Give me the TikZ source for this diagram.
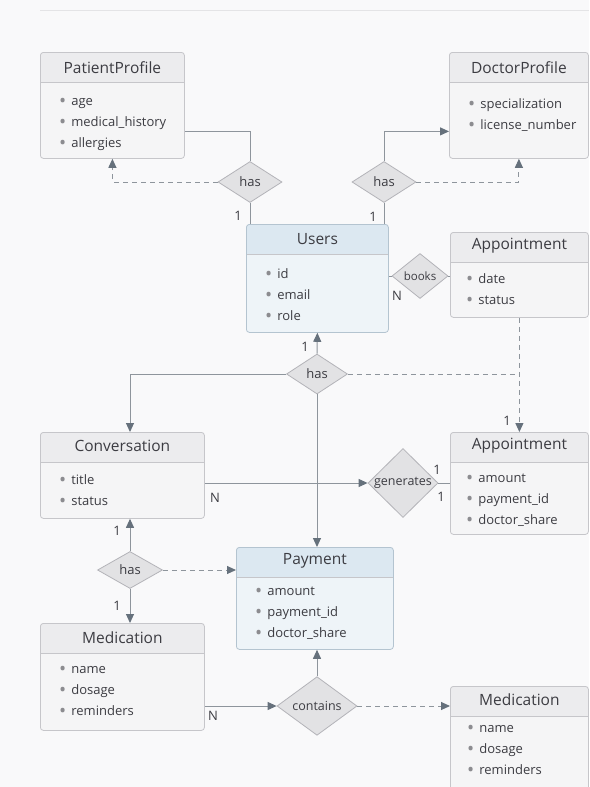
\documentclass[tikz,border=0pt]{standalone}
\usepackage{fontspec}
\setmainfont{Open Sans}
\usetikzlibrary{arrows.meta,positioning,shapes.geometric}

\definecolor{pagebg}{HTML}{F9F9FA}
\definecolor{topline}{HTML}{E4E4E6}
\definecolor{headgrey}{HTML}{ECECEE}
\definecolor{bodygrey}{HTML}{F5F5F6}
\definecolor{boxline}{HTML}{C6C6CA}
\definecolor{headblue}{HTML}{DCE8F1}
\definecolor{bodyblue}{HTML}{EEF4F8}
\definecolor{lineblue}{HTML}{B4C4D0}
\definecolor{diafill}{HTML}{E2E2E4}
\definecolor{dialine}{HTML}{B3B3B8}
\definecolor{wire}{HTML}{8E959C}
\definecolor{tipcol}{HTML}{66717C}
\definecolor{ink}{HTML}{3C3C42}
\definecolor{dotgrey}{HTML}{8C8C90}

\newcommand{\bul}{\textcolor{dotgrey}{\raisebox{-2pt}{\fontsize{19}{19}\selectfont\textbullet}}\hspace{5pt}}

\tikzset{
        % entity box: header fill, body fill
        ent/.style 2 args={draw=boxline, fill=#2, line width=0.8pt, rounded corners=3pt,
            anchor=north west, inner sep=0pt,
            path picture={
                \fill[#1, sharp corners] (path picture bounding box.north west)
                    rectangle ([yshift=-30pt]path picture bounding box.north east);
                \draw[boxline, line width=0.6pt, sharp corners]
                    ([yshift=-30pt]path picture bounding box.north west)
                    -- ([yshift=-30pt]path picture bounding box.north east);}},
        entity/.style={ent={headgrey}{bodygrey}},
        entblue/.style={ent={headblue}{bodyblue}, draw=lineblue},
        enttitle/.style={font=\fontsize{15.5}{18}\selectfont, text=ink, inner sep=0pt},
        % attribute list, top of first strut at the anchor
        items/.style={anchor=north west, align=left, font=\fontsize{13}{21}\selectfont,
            text=ink, inner sep=0pt, execute at begin node=\strut},
        % relationships
        rel/.style={diamond, draw=dialine, fill=diafill, line width=0.8pt, inner sep=0pt,
            text=ink, font=\fontsize{13}{15}\selectfont},
        % connectors
        conn/.style={draw=wire, line width=1pt},
        dashconn/.style={conn, dash pattern=on 5pt off 4pt},
        arrowed/.style={-{Triangle[length=9pt, width=8pt, color=tipcol]}},
        mult/.style={font=\fontsize{13}{15}\selectfont, text=ink, inner sep=0pt}
}

\begin{document}
\begin{tikzpicture}[x=1pt, y=-1pt]
    \useasboundingbox (0,0) rectangle (589,787);
    \fill[pagebg] (0,0) rectangle (589,787);
    \draw[topline, line width=1pt] (40,10) -- (589,10);

    % entities
    \node[entity, minimum width=144pt, minimum height=106pt] (pat) at (40,52) {};
    \node[enttitle] (pat-t) at ([yshift=-16pt]pat.north) {PatientProfile};
    \node[items] (pat-i) at ([xshift=19pt, yshift=-46pt]pat.north west)
        {\bul age\\ \bul medical\_history\\ \bul allergies};

    \node[entity, minimum width=139pt, minimum height=106pt] (doc) at (449,52) {};
    \node[enttitle] (doc-t) at ([yshift=-16pt]doc.north) {DoctorProfile};
    \node[items] (doc-i) at ([xshift=19pt, yshift=-46pt]doc.north west)
        {\bul specialization\\ \bul license\_number};

    \node[entblue, minimum width=142pt, minimum height=108pt] (users) at (246,224) {};
    \node[enttitle] (users-t) at ([yshift=-15pt]users.north) {Users};
    \node[items] (users-i) at ([xshift=19pt, yshift=-44pt]users.north west)
        {\bul id\\ \bul email\\ \bul role};

    \node[entity, minimum width=138pt, minimum height=85pt] (appt) at (450,232) {};
    \node[enttitle] (appt-t) at ([yshift=-14pt]appt.north) {Appointment};
    \node[items] (appt-i) at ([xshift=16pt, yshift=-41pt]appt.north west)
        {\bul date\\ \bul status};

    \node[entity, minimum width=164pt, minimum height=86pt] (conv) at (40,432) {};
    \node[enttitle] (conv-t) at ([yshift=-14pt]conv.north) {Conversation};
    \node[items] (conv-i) at ([xshift=19pt, yshift=-42pt]conv.north west)
        {\bul title\\ \bul status};

    \node[entity, minimum width=138pt, minimum height=102pt] (appt2) at (450,432) {};
    \node[enttitle] (appt2-t) at ([yshift=-14pt]appt2.north) {Appointment};
    \node[items] (appt2-i) at ([xshift=16pt, yshift=-42pt]appt2.north west)
        {\bul amount\\ \bul payment\_id\\ \bul doctor\_share};

    \node[entblue, minimum width=157pt, minimum height=102pt] (pay) at (236,547) {};
    \node[enttitle] (pay-t) at ([yshift=-14pt]pay.north) {Payment};
    \node[items] (pay-i) at ([xshift=19pt, yshift=-40pt]pay.north west)
        {\bul amount\\ \bul payment\_id\\ \bul doctor\_share};

    \node[entity, minimum width=164pt, minimum height=107pt] (med) at (40,623) {};
    \node[enttitle] (med-t) at ([yshift=-15pt]med.north) {Medication};
    \node[items] (med-i) at ([xshift=19pt, yshift=-43pt]med.north west)
        {\bul name\\ \bul dosage\\ \bul reminders};

    \node[entity, minimum width=138pt, minimum height=112pt] (med2) at (450,686) {};
    \node[enttitle] (med2-t) at ([yshift=-14pt]med2.north) {Medication};
    \node[items] (med2-i) at ([xshift=17pt, yshift=-39pt]med2.north west)
        {\bul name\\ \bul dosage\\ \bul reminders};

    % relationships
    \node[rel, minimum width=64pt, minimum height=41pt] (has1) at (250,182) {has};
    \node[rel, minimum width=64pt, minimum height=41pt] (has2) at (384,182) {has};
    \node[rel, minimum width=56pt, minimum height=45pt, font=\fontsize{11.5}{13}\selectfont]
        (books) at (420,276) {books};
    \node[rel, minimum width=61pt, minimum height=40pt] (has3) at (317,374) {has};
    \node[rel, minimum width=70pt, minimum height=45pt, font=\fontsize{12.5}{14}\selectfont]
        (gen) at (403,483) {generates};
    \node[rel, minimum width=65pt, minimum height=37pt] (has4) at (130,570) {has};
    \node[rel, minimum width=80pt, minimum height=40pt, font=\fontsize{12.5}{14}\selectfont]
        (con) at (317,706) {contains};

    % connectors
    \draw[conn] ([yshift=-26pt]pat.east) -| (has1.north);
    \draw[conn] (has1.south) -- (has1.south |- users.north);
    \draw[dashconn, arrowed] (has1.west) -| (pat.south);
    \draw[conn, arrowed] (has2.north) |- ([yshift=-26pt]doc.west);
    \draw[conn] (has2.south) -- (has2.south |- users.north);
    \draw[dashconn, arrowed] (has2.east) -| (doc.south);
    \draw[conn] (users.east |- books.west) -- (books.west);
    \draw[conn] (books.east) -- (books.east -| appt.west);
    \draw[dashconn, arrowed] (appt.south) -- (appt2.north);
    \draw[conn, arrowed] (has3.north) -- (users.south);
    \draw[dashconn] (has3.east) -- (has3.east -| appt.south);
    \draw[conn, arrowed] (has3.west) -| (has4 |- conv.north);
    \draw[conn, arrowed] (has3.south) -- (has3.south |- pay.north);
    \draw[conn, arrowed] (gen.west -| conv.east) -- (gen.west);
    \draw[conn] (gen.east) -- (gen.east -| appt2.west);
    \draw[conn, arrowed] (has4.north) -- (has4 |- conv.south);
    \draw[conn, arrowed] (has4.south) -- (has4 |- med.north);
    \draw[dashconn, arrowed] (has4.east) -- (has4.east -| pay.west);
    \draw[conn, arrowed] (con.west -| med.east) -- (con.west);
    \draw[conn, arrowed] (con.north) -- (con.north |- pay.south);
    \draw[dashconn, arrowed] (con.east) -- (con.east -| med2.west);

    % cardinalities
    \node[mult] (m1) at (238,216) {1};
    \node[mult] (m2) at (373,217) {1};
    \node[mult] (m3) at (397,296) {N};
    \node[mult] (m4) at (305,347) {1};
    \node[mult] (m5) at (507,421) {1};
    \node[mult] (m6) at (215,498) {N};
    \node[mult] (m7) at (437,470) {1};
    \node[mult] (m8) at (441,497) {1};
    \node[mult] (m9) at (117,531) {1};
    \node[mult] (m10) at (117,606) {1};
    \node[mult] (m11) at (213,716) {N};
\end{tikzpicture}
\end{document}
